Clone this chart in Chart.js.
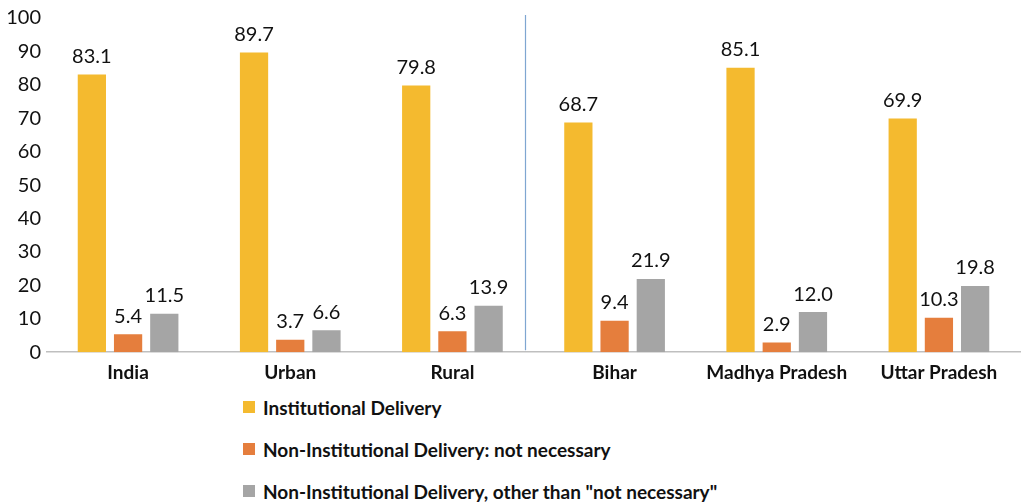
<!DOCTYPE html>
<html>
<head>
<meta charset="utf-8">
<script src="https://cdn.jsdelivr.net/npm/chart.js@4/dist/chart.umd.min.js"></script>
<style>
  html, body { margin: 0; padding: 0; background: #fff; }
  #wrap { position: relative; width: 1023px; height: 385px; }
  #legend { margin-left: 243px; margin-top: 1px; font-family: Lato, sans-serif; font-weight: bold; font-size: 19px; color: #111; }
  #legend div { height: 42px; display: flex; align-items: center; }
  #legend span.box { display: inline-block; width: 12px; height: 12px; margin-right: 8px; }
</style>
</head>
<body>
<div id="wrap"><canvas id="delivery"></canvas></div>
<div id="legend"></div>
<script>
const categories = ['India', 'Urban', 'Rural', 'Bihar', 'Madhya Pradesh', 'Uttar Pradesh'];
const institutional = [83.1, 89.7, 79.8, 68.7, 85.1, 69.9];
const notNecessary = [5.4, 3.7, 6.3, 9.4, 2.9, 10.3];
const otherReasons = [11.5, 6.6, 13.9, 21.9, 12.0, 19.8];
const yTicks = [0, 10, 20, 30, 40, 50, 60, 70, 80, 90, 100];

const seriesNames = [
  'Institutional Delivery',
  'Non-Institutional Delivery: not necessary',
  'Non-Institutional Delivery, other than "not necessary"'
];
const seriesColors = ['#F4BA2F', '#E57E3D', '#A5A5A5'];

// value labels above each bar
const barLabels = {
  id: 'barLabels',
  afterDatasetsDraw(chart) {
    const ctx = chart.ctx;
    ctx.save();
    ctx.font = '20px Lato, sans-serif';
    ctx.fillStyle = '#111';
    ctx.textAlign = 'center';
    ctx.textBaseline = 'bottom';
    chart.data.datasets.forEach((ds, i) => {
      chart.getDatasetMeta(i).data.forEach((bar, j) => {
        ctx.fillText(ds.data[j].toFixed(1), bar.x, bar.y - 8);
      });
    });
    ctx.restore();
  }
};

// separator between the national and state groups
const divider = {
  id: 'divider',
  afterDraw(chart) {
    const x = chart.scales.x;
    const px = (x.getPixelForValue(2) + x.getPixelForValue(3)) / 2 - 8;
    const ctx = chart.ctx;
    ctx.save();
    ctx.strokeStyle = '#7FA6D1';
    ctx.lineWidth = 1.2;
    ctx.beginPath();
    ctx.moveTo(px, 15);
    ctx.lineTo(px, chart.chartArea.bottom - 2);
    ctx.stroke();
    ctx.restore();
  }
};

const data = [institutional, notNecessary, otherReasons];

const chart = new Chart(document.getElementById('delivery'), {
  type: 'bar',
  data: {
    labels: categories,
    datasets: data.map((vals, i) => ({
      label: seriesNames[i],
      data: vals,
      backgroundColor: seriesColors[i],
      categoryPercentage: 0.67,
      barPercentage: 0.78
    }))
  },
  options: {
    responsive: true,
    maintainAspectRatio: false,
    animation: false,
    layout: { padding: { top: 5, right: 3, left: 0, bottom: 0 } },
    plugins: {
      legend: { display: false },
      tooltip: { enabled: false }
    },
    scales: {
      x: {
        grid: { display: false },
        border: { display: true, color: '#BFBFBF', width: 1.5 },
        ticks: {
          color: '#111',
          font: { family: 'Lato, sans-serif', size: 19, weight: 'bold' },
          padding: 1,
          maxRotation: 0
        }
      },
      y: {
        min: 0,
        max: 100,
        grid: { display: false, drawTicks: false },
        border: { display: false },
        afterFit(scale) { scale.width = 47; },
        afterBuildTicks(scale) { scale.ticks = yTicks.map(v => ({ value: v })); },
        ticks: {
          color: '#111',
          font: { family: 'Lato, sans-serif', size: 20 },
          padding: 6
        }
      }
    }
  },
  plugins: [barLabels, divider]
});

// legend, one item per row
const legendEl = document.getElementById('legend');
seriesNames.forEach((name, i) => {
  const row = document.createElement('div');
  const box = document.createElement('span');
  box.className = 'box';
  box.style.background = seriesColors[i];
  row.appendChild(box);
  row.appendChild(document.createTextNode(name));
  legendEl.appendChild(row);
});
</script>
</body>
</html>
